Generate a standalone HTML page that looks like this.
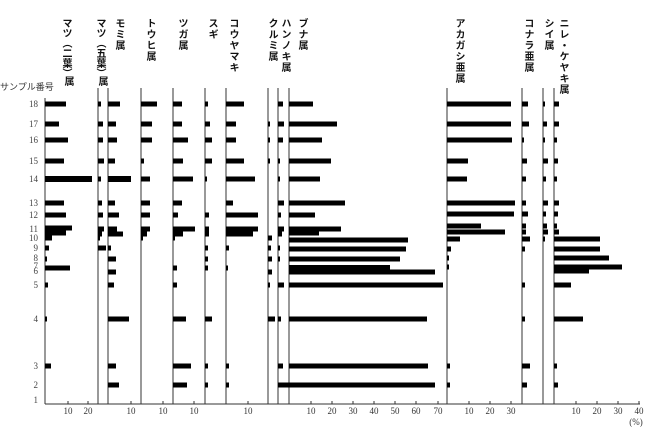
<!DOCTYPE html>
<html><head><meta charset="utf-8"><style>
body{margin:0;background:#fff;width:650px;height:428px;overflow:hidden;position:relative;font-family:"Liberation Serif","Noto Serif CJK SC",serif}
.v{position:absolute;writing-mode:vertical-rl;font-family:"Liberation Sans","Noto Sans CJK JP",sans-serif;font-weight:bold;font-size:10px;line-height:10px;letter-spacing:1px;color:#111}
svg{position:absolute;left:0;top:0}
</style></head><body>
<div class="v" style="left:60px;top:18px;letter-spacing:0">マツ（二葉）</div>
<div class="v" style="left:62px;top:76px">属</div>
<div class="v" style="left:94px;top:18px;letter-spacing:0">マツ（五葉）</div>
<div class="v" style="left:96px;top:76px">属</div>
<div class="v" style="left:113px;top:18px">モミ属</div>
<div class="v" style="left:144px;top:18px">トウヒ属</div>
<div class="v" style="left:176px;top:18px">ツガ属</div>
<div class="v" style="left:206px;top:18px">スギ</div>
<div class="v" style="left:227px;top:18px">コウヤマキ</div>
<div class="v" style="left:266px;top:18px">クルミ属</div>
<div class="v" style="left:279px;top:18px">ハンノキ属</div>
<div class="v" style="left:296px;top:18px">ブナ属</div>
<div class="v" style="left:453px;top:18px">アカガシ亜属</div>
<div class="v" style="left:522px;top:18px">コナラ亜属</div>
<div class="v" style="left:542px;top:18px">シイ属</div>
<div class="v" style="left:557px;top:18px">ニレ・ケヤキ属</div>
<div style="position:absolute;left:0;top:80px;font-size:9px;font-family:'Liberation Sans','Noto Sans CJK JP',sans-serif;color:#333">サンプル番号</div>
<svg id="s" width="650" height="428" xmlns="http://www.w3.org/2000/svg"></svg>
<script>
var s=document.getElementById('s'),h='';
var rows={18:104,17:124,16:140,15:161,14:179,13:203,12:215,11:229,10:238,9:248,8:258,7:266,6:271,5:285,4:319,3:366,2:385,1:400};
for(var r in rows){h+='<text x="38" y="'+(rows[r]+3)+'" font-size="9" text-anchor="end" fill="#444">'+r+'</text>';}
var cols=[45,98,108,141,173,205,226,268,278,289,447,522,543,554];
cols.forEach(function(x,i){var top=(i==0)?98:88;h+='<line x1="'+x+'" y1="'+top+'" x2="'+x+'" y2="404" stroke="#333" stroke-width="1"/>';});
h+='<line x1="45" y1="404" x2="640" y2="404" stroke="#333" stroke-width="1"/>';
var d={
45:[[104,21],[124,14],[140,23],[161,19],[179,47,6],[203,19],[215,21],[228,27],[233,21],[238,7],[248,4],[259,2],[268,25],[285,3],[319,2],[366,6]],
98:[[104,3],[124,5],[140,5],[161,6],[179,3],[203,4],[215,5],[229,6],[234,4],[238,2],[248,8]],
108:[[104,12],[124,8],[140,9],[161,7],[179,23,6],[203,7],[215,11],[229,9],[234,15],[248,3],[259,8],[272,8],[285,6],[319,21],[366,8],[385,11]],
141:[[104,16],[124,11],[140,11],[161,3],[179,9],[203,9],[215,9],[229,9],[234,6],[238,2]],
173:[[104,9],[124,9],[140,15],[161,10],[179,20],[203,9],[215,5],[229,22],[234,10],[238,2],[268,4],[285,4],[319,13],[366,18],[385,14]],
205:[[104,3],[124,5],[140,7],[161,7],[179,2],[215,4],[229,4],[234,4],[248,3],[259,3],[268,3],[319,7],[366,3],[385,3]],
226:[[104,18],[124,10],[140,10],[161,18],[179,29],[203,7],[215,32],[229,32],[234,27],[248,3],[268,2],[366,3],[385,3]],
268:[[124,2],[140,2],[161,2],[238,4],[248,3],[259,4],[272,4],[285,2],[319,7]],
278:[[104,5],[124,6],[140,5],[161,2],[179,2],[203,6],[215,3],[229,6],[234,4],[248,2],[259,2],[285,6],[319,3],[366,5],[385,11]],
289:[[104,24],[124,48],[140,33],[161,42],[179,31],[203,56],[215,26],[229,52],[233,30],[240,119],[249,117],[259,111],[268,101,6],[272,146,5],[285,154],[319,138],[366,139],[385,146]],
447:[[104,64],[124,64],[140,65],[161,21],[179,20],[203,68],[214,67],[226,34],[232,58],[239,13],[249,4],[258,2],[267,2],[366,3],[385,3]],
522:[[104,6],[124,7],[140,2],[161,5],[179,4],[203,4],[214,6],[226,4],[232,4],[239,8],[249,3],[285,3],[319,3],[366,8],[385,5]],
543:[[104,2],[124,4],[140,2],[161,5],[179,3],[203,5],[214,3],[226,4],[232,5],[239,2]],
554:[[104,5],[124,5],[140,3],[161,4],[179,3],[203,5],[214,4],[226,3],[232,5],[239,46],[249,46],[258,55],[267,68,5],[271,35,5],[285,17],[319,29],[366,3],[385,4]]};
for(var x in d){d[x].forEach(function(b){var th=b[2]||5;h+='<rect x="'+x+'" y="'+(b[0]-th/2)+'" width="'+b[1]+'" height="'+th+'" fill="#000"/>';});}
var t=[[68,'10'],[88,'20'],[131,'10'],[163,'10'],[194,'10'],[248,'10'],[311,'10'],[332,'20'],[353,'30'],[374,'40'],[395,'50'],[416,'60'],[438,'70'],[469,'10'],[490,'20'],[511,'30'],[576,'10'],[597,'20'],[618,'30'],[639,'40']];
t.forEach(function(a){h+='<line x1="'+a[0]+'" y1="401" x2="'+a[0]+'" y2="404" stroke="#333"/><text x="'+a[0]+'" y="414" font-size="9" text-anchor="middle" fill="#333">'+a[1]+'</text>';});
h+='<text x="636" y="425" font-size="9" text-anchor="middle" fill="#333">(%)</text>';
s.innerHTML=h;
</script>
</body></html>
